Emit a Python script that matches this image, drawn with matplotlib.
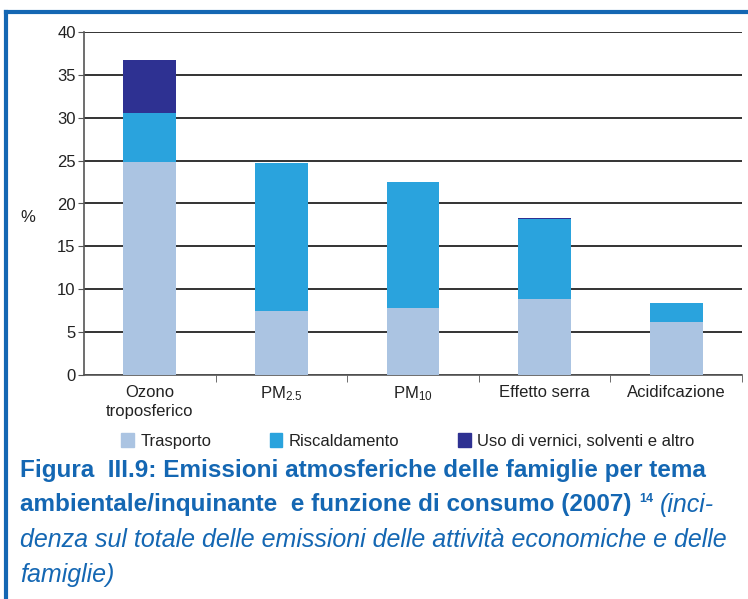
import matplotlib
matplotlib.use("Agg")
import matplotlib.pyplot as plt
from matplotlib.patches import Rectangle
from matplotlib.lines import Line2D

categories = ["Ozono\ntroposferico", "PM$_{2.5}$", "PM$_{10}$", "Effetto serra", "Acidifcazione"]
trasporto = [24.8, 7.45, 7.8, 8.85, 6.2]
riscaldamento = [5.75, 17.25, 14.7, 9.35, 2.2]
uso_vernici = [6.15, 0.0, 0.0, 0.15, 0.0]
series_names = ["Trasporto", "Riscaldamento", "Uso di vernici, solventi e altro"]
yticks = [0, 5, 10, 15, 20, 25, 30, 35, 40]

c_tr = "#abc4e2"
c_ri = "#2aa3dd"
c_uv = "#2e3192"
c_title = "#1467b3"

fam = ["Liberation Sans", "DejaVu Sans"]
plt.rcParams['font.family'] = fam
plt.rcParams['mathtext.fontset'] = 'custom'
plt.rcParams['mathtext.rm'] = "Liberation Sans"
plt.rcParams['mathtext.it'] = "Liberation Sans:italic"

fig = plt.figure(figsize=(7.48, 5.99), dpi=100)
ax = fig.add_axes([84/748, 1-375/599, (742-84)/748, (375-32)/599])

x = list(range(len(categories)))
w = 0.4
ax.bar(x, trasporto, w, color=c_tr, zorder=3)
ax.bar(x, riscaldamento, w, bottom=trasporto, color=c_ri, zorder=3)
bot2 = [a + b for a, b in zip(trasporto, riscaldamento)]
ax.bar(x, uso_vernici, w, bottom=bot2, color=c_uv, zorder=3)

ax.set_xlim(-0.5, len(categories) - 0.5)
ax.set_ylim(0, 40)
ax.set_yticks(yticks)
ax.yaxis.grid(True, color="#333333", linewidth=1.4, zorder=0)
ax.set_axisbelow(True)
ax.tick_params(axis='y', length=4, color="#555555", labelsize=12, labelcolor="#222222", pad=2)
ax.set_xticks(x)
ax.set_xticklabels(categories, fontsize=12, color="#222222", linespacing=1.35)
ax.tick_params(axis='x', length=0, pad=7)
ax.set_xticks([i + 0.5 for i in x], minor=True)
ax.tick_params(axis='x', which='minor', length=5, color="#555555")
for s in ["top", "right"]:
    ax.spines[s].set_visible(False)
for s in ["left", "bottom"]:
    ax.spines[s].set_color("#555555")
    ax.spines[s].set_linewidth(1.2)
ax.set_ylabel("%", rotation=0, fontsize=12, color="#222222", va="center")
ax.yaxis.set_label_coords(-0.086, 0.458)

# legend
handles = [Rectangle((0, 0), 1, 1, color=c) for c in (c_tr, c_ri, c_uv)]
leg = fig.legend(handles, series_names, loc="center", bbox_to_anchor=(408/748, 1-441/599),
                 ncol=3, frameon=False, fontsize=12, handlelength=0.75, handleheight=0.9,
                 handletextpad=0.4, columnspacing=3.5)
for t in leg.get_texts():
    t.set_color("#222222")

# caption
bold_font = {"family": fam, "weight": "bold", "size": 17.5, "color": c_title}
ital_font = {"family": fam, "style": "italic", "size": 18, "color": c_title}
fig.text(20/748, 1-471/599, "Figura  III.9: Emissioni atmosferiche delle famiglie per tema", va="center", **bold_font)
t2 = fig.text(20/748, 1-505/599, "ambientale/inquinante  e funzione di consumo (2007)", va="center", **bold_font)
fig.canvas.draw()
r = fig.canvas.get_renderer()
bb = t2.get_window_extent(r)
x_sup = bb.x1 + 8
ts = fig.text(x_sup / 748, 1-499/599, "14", va="center", family=fam, weight="bold", size=9, color=c_title)
bb2 = ts.get_window_extent(r)
fig.text((bb2.x1 + 6) / 748, 1-505/599, "(inci-", va="center", **ital_font)
fig.text(20/748, 1-540/599, "denza sul totale delle emissioni delle attività economiche e delle", va="center", **ital_font)
fig.text(20/748, 1-575/599, "famiglie)", va="center", **ital_font)

# border (top and left)
fig.add_artist(Line2D([6/748, 1.0], [1-12/599, 1-12/599], color=c_title, linewidth=3, transform=fig.transFigure))
fig.add_artist(Line2D([6/748, 6/748], [0, 1-12/599], color=c_title, linewidth=3, transform=fig.transFigure))

fig.savefig("out.png", dpi=100)
